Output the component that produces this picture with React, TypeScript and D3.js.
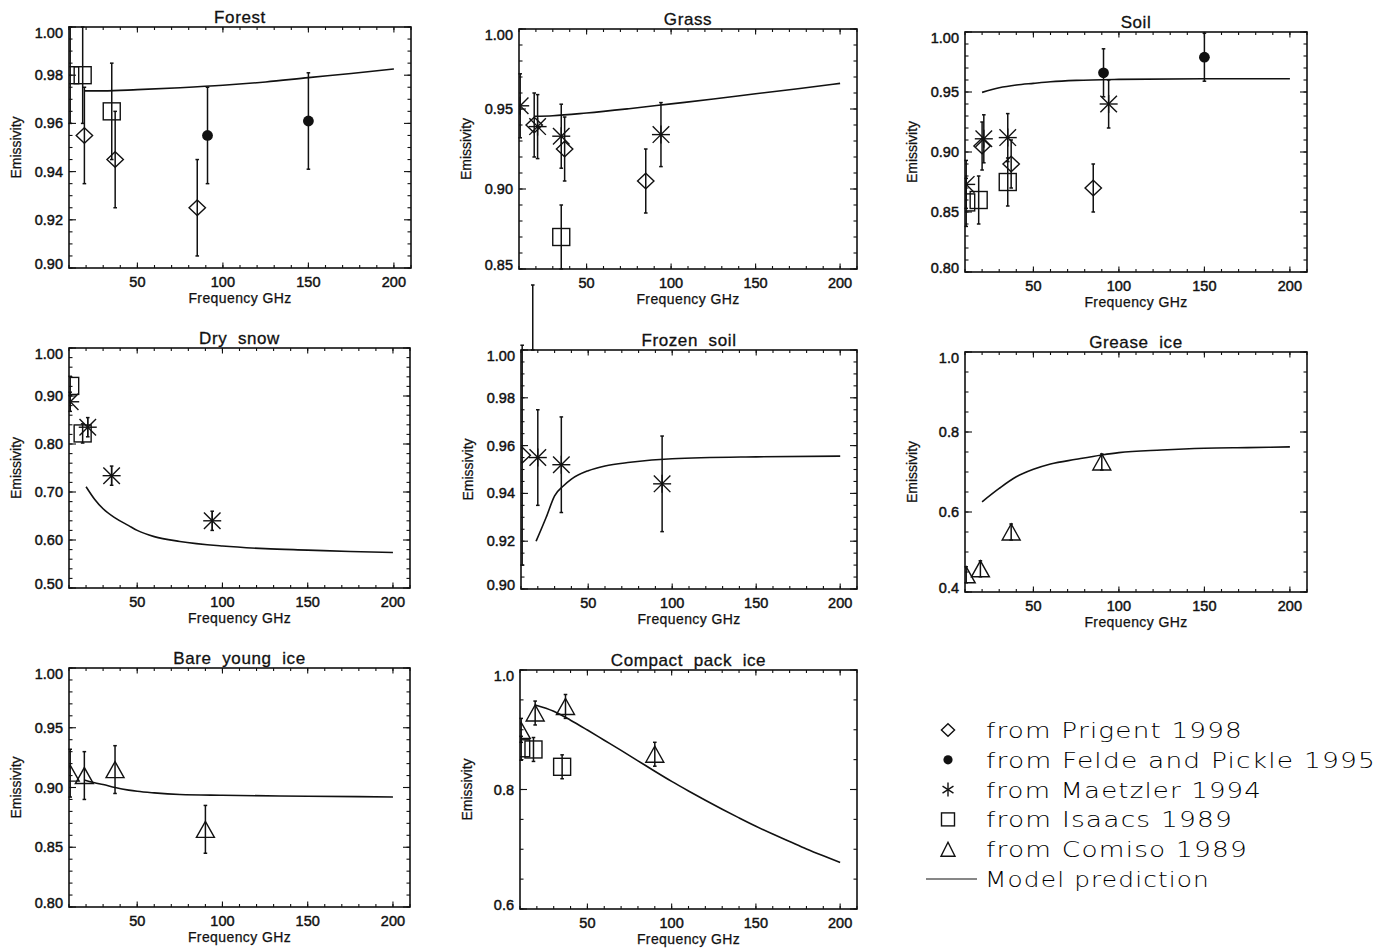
import React from 'react';
import * as d3 from 'd3';

type Pt = [number, number, number]; // frequency (GHz), emissivity, error
type MPt = [number, number];

// ---------------- DATA ----------------
const xMajorTicks = [50, 100, 150, 200];
const xDomain: [number, number] = [10, 210];

// Forest
const forestPrigent: Pt[] = [[19, 0.955, 0.02], [37, 0.945, 0.02], [85, 0.925, 0.02]];
const forestFelde: Pt[] = [[91, 0.955, 0.02], [150, 0.961, 0.02]];
const forestMaetzler: Pt[] = [];
const forestIsaacs: Pt[] = [[10.7, 0.98, 0.02], [18, 0.98, 0.02], [35, 0.965, 0.02]];
const forestComiso: Pt[] = [];
const forestModel: MPt[] = [[19, 0.9735], [30, 0.9735], [50, 0.974], [75, 0.9748], [100, 0.9758], [125, 0.9772], [150, 0.979], [175, 0.9807], [200, 0.9826]];

// Grass
const grassPrigent: Pt[] = [[19, 0.94, 0.02], [37, 0.925, 0.02], [85, 0.905, 0.02]];
const grassFelde: Pt[] = [];
const grassMaetzler: Pt[] = [[10.7, 0.952, 0.02], [21, 0.939, 0.02], [35, 0.933, 0.02], [94, 0.934, 0.02]];
const grassIsaacs: Pt[] = [[35, 0.87, 0.02]];
const grassComiso: Pt[] = [];
const grassModel: MPt[] = [[19, 0.9455], [30, 0.9458], [50, 0.9475], [75, 0.9502], [100, 0.9532], [125, 0.9562], [150, 0.9595], [175, 0.9627], [200, 0.966]];

// Soil
const soilPrigent: Pt[] = [[20, 0.905, 0.02], [37, 0.89, 0.02], [85, 0.87, 0.02]];
const soilFelde: Pt[] = [[91, 0.966, 0.02], [150, 0.979, 0.02]];
const soilMaetzler: Pt[] = [[10.7, 0.873, 0.02], [21, 0.911, 0.02], [35, 0.912, 0.02], [94, 0.94, 0.02]];
const soilIsaacs: Pt[] = [[10.7, 0.858, 0.02], [18, 0.86, 0.02], [35, 0.875, 0.02]];
const soilComiso: Pt[] = [];
const soilModel: MPt[] = [[20, 0.9497], [30, 0.9535], [40, 0.9558], [50, 0.9572], [60, 0.9585], [75, 0.9597], [100, 0.9605], [150, 0.961], [200, 0.961]];

// Dry snow
const snowPrigent: Pt[] = [];
const snowFelde: Pt[] = [];
const snowMaetzler: Pt[] = [[10.7, 0.888, 0.02], [21, 0.835, 0.02], [35, 0.734, 0.02], [94, 0.64, 0.02]];
const snowIsaacs: Pt[] = [[10.7, 0.921, 0.02], [18, 0.822, 0.02]];
const snowComiso: Pt[] = [];
const snowModel: MPt[] = [[20, 0.711], [25, 0.685], [30, 0.665], [37, 0.646], [45, 0.63], [50, 0.62], [60, 0.607], [75, 0.597], [100, 0.5875], [125, 0.582], [150, 0.579], [175, 0.576], [200, 0.574]];

// Frozen soil
const frozenPrigent: Pt[] = [[10.7, 0.956, 0.046]];
const frozenFelde: Pt[] = [];
const frozenMaetzler: Pt[] = [[20, 0.955, 0.02], [34, 0.952, 0.02], [94, 0.944, 0.02]];
const frozenIsaacs: Pt[] = [[17, 1.0136, 0.0136]];
const frozenComiso: Pt[] = [];
const frozenModel: MPt[] = [[19, 0.92], [25, 0.93], [30, 0.939], [35, 0.943], [40, 0.946], [50, 0.9495], [60, 0.9515], [75, 0.953], [100, 0.9545], [150, 0.9553], [200, 0.9556]];

// Grease ice
const greasePrigent: Pt[] = [];
const greaseFelde: Pt[] = [];
const greaseMaetzler: Pt[] = [];
const greaseIsaacs: Pt[] = [];
const greaseComiso: Pt[] = [[10.7, 0.443, 0.02], [19, 0.458, 0.02], [37, 0.55, 0.02], [90, 0.725, 0.02]];
const greaseModel: MPt[] = [[20, 0.6256], [30, 0.659], [40, 0.688], [50, 0.7067], [60, 0.72], [75, 0.7317], [90, 0.7426], [100, 0.7485], [125, 0.755], [150, 0.7593], [175, 0.761], [200, 0.7627]];

// Bare young ice
const barePrigent: Pt[] = [];
const bareFelde: Pt[] = [];
const bareMaetzler: Pt[] = [];
const bareIsaacs: Pt[] = [];
const bareComiso: Pt[] = [[10.7, 0.912, 0.02], [19, 0.91, 0.02], [37, 0.915, 0.02], [90, 0.865, 0.02]];
const bareModel: MPt[] = [[19, 0.9063], [25, 0.904], [30, 0.9025], [37, 0.9], [45, 0.8978], [50, 0.8968], [60, 0.8955], [75, 0.8942], [100, 0.8935], [150, 0.8927], [200, 0.8921]];

// Compact pack ice
const packPrigent: Pt[] = [];
const packFelde: Pt[] = [];
const packMaetzler: Pt[] = [];
const packIsaacs: Pt[] = [[10.7, 0.869, 0.02], [18, 0.867, 0.02], [35, 0.838, 0.02]];
const packComiso: Pt[] = [[10.7, 0.899, 0.02], [19, 0.928, 0.02], [37, 0.939, 0.02], [90, 0.859, 0.02]];
const packModel: MPt[] = [[19, 0.9415], [30, 0.931], [40, 0.916], [50, 0.8995], [60, 0.8825], [70, 0.8655], [80, 0.848], [90, 0.8305], [100, 0.8135], [110, 0.7975], [120, 0.782], [130, 0.767], [140, 0.7525], [150, 0.7385], [160, 0.7255], [170, 0.713], [180, 0.7005], [190, 0.689], [200, 0.678]];

const panelTitles = ['Forest', 'Grass', 'Soil', 'Dry  snow', 'Frozen  soil', 'Grease  ice', 'Bare  young  ice', 'Compact  pack  ice'];
const yDomains: [number, number][] = [[0.9, 1.0], [0.85, 1.0], [0.8, 1.0], [0.5, 1.0], [0.9, 1.0], [0.4, 1.0], [0.8, 1.0], [0.6, 1.0]];
const yMajorSteps = [0.02, 0.05, 0.05, 0.1, 0.02, 0.2, 0.05, 0.2];
const yMinorSteps = [0.005, 0.01, 0.01, 0.02, 0.005, 0.05, 0.01, 0.05];
const yDecimals = [2, 2, 2, 2, 2, 1, 2, 1];

const legendLabels = ['from Prigent 1998', 'from Felde and Pickle 1995', 'from Maetzler 1994', 'from Isaacs 1989', 'from Comiso 1989', 'Model prediction'];

const seriesByPanel = [
  [forestPrigent, forestFelde, forestMaetzler, forestIsaacs, forestComiso],
  [grassPrigent, grassFelde, grassMaetzler, grassIsaacs, grassComiso],
  [soilPrigent, soilFelde, soilMaetzler, soilIsaacs, soilComiso],
  [snowPrigent, snowFelde, snowMaetzler, snowIsaacs, snowComiso],
  [frozenPrigent, frozenFelde, frozenMaetzler, frozenIsaacs, frozenComiso],
  [greasePrigent, greaseFelde, greaseMaetzler, greaseIsaacs, greaseComiso],
  [barePrigent, bareFelde, bareMaetzler, bareIsaacs, bareComiso],
  [packPrigent, packFelde, packMaetzler, packIsaacs, packComiso],
];
const modelByPanel = [forestModel, grassModel, soilModel, snowModel, frozenModel, greaseModel, bareModel, packModel];

// ---------------- LAYOUT ----------------
const boxes = [
  { l: 69, r: 411, t: 27, b: 268 },
  { l: 519, r: 857, t: 29, b: 269 },
  { l: 965, r: 1307, t: 32, b: 272 },
  { l: 69, r: 410, t: 348, b: 588 },
  { l: 521, r: 857, t: 350, b: 589 },
  { l: 965, r: 1307, t: 352, b: 592 },
  { l: 69, r: 410, t: 668, b: 907 },
  { l: 520, r: 857, t: 670, b: 909 },
];

const tickFont = '"Liberation Sans", Arial, sans-serif';
const INK = '#111';

function stepValues(lo: number, hi: number, step: number) {
  const n = Math.round((hi - lo) / step);
  return d3.range(n + 1).map((i) => +(lo + i * step).toFixed(6));
}

function Symbol({ kind, cx, cy, legend }: { kind: number; cx: number; cy: number; legend?: boolean }) {
  const sw = 1.4;
  const k = legend ? 0.8 : 1;
  if (kind === 0) {
    const w = 8.2 * k, h = 7.8 * k;
    return <path d={`M${cx},${cy - h}L${cx + w},${cy}L${cx},${cy + h}L${cx - w},${cy}Z`} fill="none" stroke={INK} strokeWidth={sw} />;
  }
  if (kind === 1) {
    return <circle cx={cx} cy={cy} r={legend ? 4.6 : 5.4} fill={INK} />;
  }
  if (kind === 2) {
    const s = (legend ? 7 : 9);
    const dg = s * 0.92;
    const lines = legend
      ? [[0, -s, 0, s], [-dg * 0.85, -dg * 0.55, dg * 0.85, dg * 0.55], [-dg * 0.85, dg * 0.55, dg * 0.85, -dg * 0.55]]
      : [[-s, 0, s, 0], [0, -s, 0, s], [-dg, -dg, dg, dg], [-dg, dg, dg, -dg]];
    return (
      <g stroke={INK} strokeWidth={sw}>
        {lines.map((l, i) => <line key={i} x1={cx + l[0]} y1={cy + l[1]} x2={cx + l[2]} y2={cy + l[3]} />)}
      </g>
    );
  }
  if (kind === 3) {
    const s = legend ? 6.5 : 8.5;
    return <rect x={cx - s} y={cy - s} width={2 * s} height={2 * s} fill="none" stroke={INK} strokeWidth={sw} />;
  }
  const w = legend ? 7 : 9, h = legend ? 7 : 8;
  return <path d={`M${cx - w},${cy + h}L${cx},${cy - h}L${cx + w},${cy + h}Z`} fill="none" stroke={INK} strokeWidth={sw} />;
}

function Panel({ idx }: { idx: number }) {
  const box = boxes[idx];
  const x = d3.scaleLinear().domain(xDomain).range([box.l, box.r]);
  const y = d3.scaleLinear().domain(yDomains[idx]).range([box.b, box.t]);
  const [lo, hi] = yDomains[idx];
  const yMaj = stepValues(lo, hi, yMajorSteps[idx]);
  const yMin = stepValues(lo, hi, yMinorSteps[idx]);
  const xMin = d3.range(10, 211, 10);
  const fmt = d3.format(`.${yDecimals[idx]}f`);
  const line = d3.line<MPt>().x((d) => x(d[0])).y((d) => y(d[1])).curve(d3.curveMonotoneX);
  const clipId = `clip-${idx}`;
  const majY = 7, minY = 3.5, majX = 5.5, minX = 3;
  const cxMid = (box.l + box.r) / 2;
  const cyMid = (box.t + box.b) / 2;
  return (
    <g>
      <defs>
        <clipPath id={clipId}>
          <rect x={box.l} y={box.t} width={box.r - box.l} height={box.b - box.t} />
        </clipPath>
      </defs>
      {/* ticks */}
      <g stroke={INK} strokeWidth={1.1}>
        {yMin.map((v, i) => (
          <g key={'ym' + i}>
            <line x1={box.l} x2={box.l + minY} y1={y(v)} y2={y(v)} />
            <line x1={box.r} x2={box.r - minY} y1={y(v)} y2={y(v)} />
          </g>
        ))}
        {yMaj.map((v, i) => (
          <g key={'yM' + i}>
            <line x1={box.l} x2={box.l + majY} y1={y(v)} y2={y(v)} />
            <line x1={box.r} x2={box.r - majY} y1={y(v)} y2={y(v)} />
          </g>
        ))}
        {xMin.map((v, i) => (
          <g key={'xm' + i}>
            <line x1={x(v)} x2={x(v)} y1={box.b} y2={box.b - minX} />
            <line x1={x(v)} x2={x(v)} y1={box.t} y2={box.t + minX} />
          </g>
        ))}
        {xMajorTicks.map((v, i) => (
          <g key={'xM' + i}>
            <line x1={x(v)} x2={x(v)} y1={box.b} y2={box.b - majX} />
            <line x1={x(v)} x2={x(v)} y1={box.t} y2={box.t + majX} />
          </g>
        ))}
      </g>
      <rect x={box.l} y={box.t} width={box.r - box.l} height={box.b - box.t} fill="none" stroke={INK} strokeWidth={1.6} />
      {/* tick labels */}
      <g fontFamily={tickFont} fontSize={14.5} fill={INK} stroke={INK} strokeWidth={0.45}>
        {yMaj.map((v, i) => {
          const nudge = i === yMaj.length - 1 ? 5.5 : i === 0 ? -4.3 : 0;
          return (
            <text key={'yl' + i} x={box.l - 6} y={y(v) + 5 + nudge} textAnchor="end">{fmt(v)}</text>
          );
        })}
        {xMajorTicks.map((v, i) => (
          <text key={'xl' + i} x={x(v)} y={box.b + 19} textAnchor="middle">{v}</text>
        ))}
      </g>
      <text x={cxMid} y={box.b + 35} textAnchor="middle" fontFamily={tickFont} fontSize={14} fill={INK} stroke={INK} strokeWidth={0.25} letterSpacing={0.4}>Frequency GHz</text>
      <text transform={`translate(${box.l - 48},${cyMid}) rotate(-90)`} textAnchor="middle" fontFamily={tickFont} fontSize={14} fill={INK} stroke={INK} strokeWidth={0.25}>Emissivity</text>
      <text x={cxMid} y={box.t - 4} textAnchor="middle" fontFamily={tickFont} fontSize={17} fill={INK} stroke={INK} strokeWidth={0.3} letterSpacing={0.6} style={{ whiteSpace: 'pre' }}>{panelTitles[idx]}</text>
      {/* model */}
      <g clipPath={`url(#${clipId})`}>
        <path d={line(modelByPanel[idx]) || ''} fill="none" stroke={INK} strokeWidth={1.6} />
      </g>
      {/* error bars (not clipped) */}
      <g stroke={INK} strokeWidth={1.5}>
        {seriesByPanel[idx].map((ser, si) =>
          ser.map((d, j) => {
            const xx = x(d[0]);
            const y1 = y(d[1] - d[2]);
            const y2 = y(d[1] + d[2]);
            return (
              <g key={`e${si}-${j}`}>
                <line x1={xx} x2={xx} y1={y1} y2={y2} />
                <line x1={xx - 1.8} x2={xx + 1.8} y1={y1} y2={y1} />
                <line x1={xx - 1.8} x2={xx + 1.8} y1={y2} y2={y2} />
              </g>
            );
          })
        )}
      </g>
      <g clipPath={`url(#${clipId})`}>
        {seriesByPanel[idx].map((ser, si) =>
          ser.map((d, j) => <Symbol key={`s${si}-${j}`} kind={si} cx={x(d[0])} cy={y(d[1])} />)
        )}
      </g>
    </g>
  );
}

function Legend() {
  const rowY = d3.scaleLinear().domain([0, 5]).range([730, 879]);
  const lengths = [257, 390, 276, 247, 262, 225];
  return (
    <g>
      {legendLabels.map((lab, i) => (
        <g key={i}>
          {i < 5 ? (
            <Symbol kind={i} cx={948} cy={rowY(i)} legend />
          ) : (
            <line x1={926} x2={977} y1={rowY(i)} y2={rowY(i)} stroke={INK} strokeWidth={1.2} />
          )}
          <text
            x={i < 5 ? 986 : 985}
            y={rowY(i) + 8}
            fontFamily='"DejaVu Sans", "Noto Sans", sans-serif'
            fontWeight={200}
            fontSize={22}
            fill="#000"
            letterSpacing={1}
            textLength={lengths[i]}
            lengthAdjust="spacingAndGlyphs"
          >
            {lab}
          </text>
        </g>
      ))}
    </g>
  );
}

export default function App() {
  return (
    <div style={{ position: 'absolute', left: 0, top: 0 }}>
      <svg width={1395} height={950} viewBox="0 0 1395 950" style={{ display: 'block', background: '#fff' }}>
        <rect x={0} y={0} width={1395} height={950} fill="#fff" />
        {boxes.map((_, i) => <Panel key={i} idx={i} />)}
        <Legend />
      </svg>
    </div>
  );
}
